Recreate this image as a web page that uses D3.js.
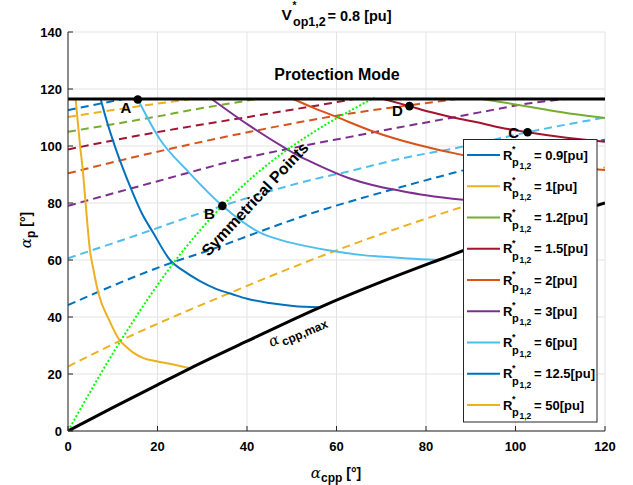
<!DOCTYPE html>
<html>
<head>
<meta charset="utf-8">
<script src="https://cdn.jsdelivr.net/npm/d3@7"></script>
<style>
  html, body { margin: 0; padding: 0; background: #fff; }
  svg text { font-family: "Liberation Sans", Arial, Helvetica, sans-serif; font-weight: bold; fill: #000; }
  .greek { font-family: "DejaVu Serif", "Liberation Serif", serif; font-style: italic; font-weight: normal; }
</style>
</head>
<body>
<svg id="chart" width="633" height="485"></svg>
<script>
// Axis ticks
const xTicks = [0, 20, 40, 60, 80, 100, 120];
const yTicks = [0, 20, 40, 60, 80, 100, 120, 140];

// Legend entries (R*_p1,2 in pu) and their colours
const rLabels = ["0.9", "1", "1.2", "1.5", "2", "3", "6", "12.5", "50"];
const rColors = ["#0072BD", "#EDB120", "#77AC30", "#A2142F", "#D95319", "#7E2F8E", "#4DBEEE", "#0072BD", "#EDB120"];

// Constant-R curves (solid), [alpha_cpp, alpha_p] in degrees
const solidR12 = [[92.5,116.5],[100,114.6],[107,112.7],[113,111.2],[120,109.8]];
const solidR15 = [[70.5,116.5],[76.3,114],[81,111.9],[85.5,110.2],[90.6,108.6],[96.5,106.5],[102.7,104.8],[111.4,102.9],[120,101.5]];
const solidR2 = [[50.3,116.5],[55,113.3],[60,110.2],[68.2,105.1],[77.9,100.5],[88.3,96.8],[100,94.2],[110,92.6],[120,91.6]];
const solidR3 = [[32.1,116.5],[40.3,107.4],[48.9,98.9],[51.8,96.3],[54.1,94.6],[63,88.6],[68,86.3],[74.2,84.3],[80,82.7],[88.3,81.1],[100,79.8],[110,79],[116,78.3]];
const solidR6 = [[15.6,116.4],[20.6,102.2],[26.5,91.6],[34.5,79],[42.9,69.6],[48,66.8],[54.1,64.6],[58.5,63.3],[65.3,61.8],[69.7,61.2],[76,60.5],[82.8,60]];
const solidR125 = [[7.3,116.5],[8.6,109.1],[10.5,99.8],[12.4,91.6],[14.2,84.6],[16.5,76.4],[19.1,69.4],[22.8,60],[26,56],[29.5,52.6],[33.2,49.8],[36.9,47.9],[40,46.4],[45,44.9],[50.3,43.9],[56.3,43.4]];
const solidR50 = [[1.7,116.5],[2.7,100],[3.3,91.6],[3.8,82.5],[4.9,63.5],[5.7,56.5],[6.8,48.3],[9.2,38.9],[11.6,31.7],[13,29.6],[14.5,27.6],[17,25.5],[19.8,24.5],[23,23.5],[27.3,22]];

// Companion curves (dashed)
const dashR09 = [[0,112.6],[6,114.5],[12.5,116.5]];
const dashR1 = [[0,110.2],[18.3,114.5],[27.5,116.5]];
const dashR12 = [[0,105],[18.3,109.9],[30,113.3],[40.7,116.1],[42.2,116.5]];
const dashR15 = [[0,98.8],[18.3,104.4],[40.7,110.3],[61.5,115.8],[64,116.5]];
const dashR2 = [[0,90.4],[18.3,97.4],[40.7,105],[63,111.4],[76.3,114.3],[87,116.5]];
const dashR3 = [[0,79],[18.3,86.9],[40.7,96.2],[51.8,99.8],[63,103.2],[74.2,106.6],[80.9,108.5],[92,111.8],[103.2,115],[111.5,116.5]];
const dashR6 = [[0,60.6],[13.1,67.5],[34.5,79],[54.1,88],[63,91.2],[74.2,95.5],[88,99.7],[103.2,105],[120,110]];
const dashR125 = [[0,44.2],[23.8,59.4],[31.7,63.5],[42.9,70],[51.8,75],[74.2,85.5],[86,90.5],[100,96],[120,102.2]];
const dashR50 = [[0,22.6],[11.6,31.6],[36.9,48.9],[58.5,62.5],[88.3,78.7],[120,92.5]];

// Maximum alpha_cpp boundary and symmetrical-point locus
const cppMax = [[0,0],[10,8.2],[20,16.2],[27.3,22],[40,31.5],[56.3,43.4],[70,52.3],[82.8,60],[100,70],[120,80]];
const symPoints = [[0,0],[11.6,31.2],[23.8,59.4],[34.5,79],[42.2,90.4],[48.9,98.6],[54,104],[60,109.7],[63,112.3],[68.5,117]];
const protectionLevel = 116.5;

// Marked operating points
const markNames = ["A", "B", "C", "D"];
const markX = [15.6, 34.5, 102.7, 76.3];
const markY = [116.3, 79, 104.8, 114];

const svg = d3.select("#chart");
const x = d3.scaleLinear().domain([0, 120]).range([68, 605]);
const y = d3.scaleLinear().domain([0, 140]).range([431, 32]);

// Grid
const grid = svg.append("g");
grid.selectAll(".gx").data(xTicks).join("line")
  .attr("x1", d => x(d)).attr("x2", d => x(d)).attr("y1", y(0)).attr("y2", y(140))
  .attr("stroke", "#e3e3e3").attr("stroke-width", 1);
grid.selectAll(".gy").data(yTicks).join("line")
  .attr("x1", x(0)).attr("x2", x(120)).attr("y1", d => y(d)).attr("y2", d => y(d))
  .attr("stroke", "#e3e3e3").attr("stroke-width", 1);

svg.append("defs").append("clipPath").attr("id", "plotClip")
  .append("rect").attr("x", x(0)).attr("y", y(140)).attr("width", x(120) - x(0)).attr("height", y(0) - y(140));

const plot = svg.append("g").attr("clip-path", "url(#plotClip)");
const line = d3.line().x(d => x(d[0])).y(d => y(d[1])).curve(d3.curveMonotoneX);

const dashed = [dashR09, dashR1, dashR12, dashR15, dashR2, dashR3, dashR6, dashR125, dashR50];
dashed.forEach((pts, i) => {
  plot.append("path").attr("d", line(pts)).attr("fill", "none")
    .attr("stroke", rColors[i]).attr("stroke-width", 2).attr("stroke-dasharray", "8,5");
});

const solids = [null, null, solidR12, solidR15, solidR2, solidR3, solidR6, solidR125, solidR50];
solids.forEach((pts, i) => {
  if (!pts) return;
  plot.append("path").attr("d", line(pts)).attr("fill", "none")
    .attr("stroke", rColors[i]).attr("stroke-width", 2);
});

plot.append("path").attr("d", line(symPoints)).attr("fill", "none")
  .attr("stroke", "#00ff00").attr("stroke-width", 2).attr("stroke-dasharray", "2,2");

plot.append("path").attr("d", line(cppMax)).attr("fill", "none")
  .attr("stroke", "#000").attr("stroke-width", 3);

plot.append("line").attr("x1", x(0)).attr("x2", x(120))
  .attr("y1", y(protectionLevel)).attr("y2", y(protectionLevel))
  .attr("stroke", "#000").attr("stroke-width", 3);

plot.selectAll(".mark").data(markNames).join("circle")
  .attr("cx", (d, i) => x(markX[i])).attr("cy", (d, i) => y(markY[i])).attr("r", 4.3).attr("fill", "#000");

// Point labels
const labelOffsets = [[-12, 8], [-13, 8], [-14, 0], [-12, 4]];
svg.selectAll(".mlab").data(markNames).join("text")
  .attr("x", (d, i) => x(markX[i]) + labelOffsets[i][0])
  .attr("y", (d, i) => y(markY[i]) + labelOffsets[i][1])
  .attr("text-anchor", "middle").attr("dominant-baseline", "central")
  .attr("font-size", 15).text(d => d);

// Annotations
svg.append("text").attr("x", 337).attr("y", 80).attr("text-anchor", "middle")
  .attr("font-size", 16).text("Protection Mode");

svg.append("text").attr("text-anchor", "middle").attr("dominant-baseline", "central")
  .attr("font-size", 16).attr("transform", "translate(255,199) rotate(-47)")
  .text("Symmetrical Points");

const cl = svg.append("text").attr("transform", "translate(271,347) rotate(-23)");
cl.append("tspan").attr("class", "greek").attr("font-size", 15).text("α");
cl.append("tspan").attr("dx", 2).attr("dy", 4).attr("font-size", 12).text("cpp,max");

// Axes
svg.append("line").attr("x1", x(0)).attr("x2", x(0)).attr("y1", y(0)).attr("y2", y(140)).attr("stroke", "#262626").attr("stroke-width", 1);
svg.append("line").attr("x1", x(0)).attr("x2", x(120)).attr("y1", y(0)).attr("y2", y(0)).attr("stroke", "#262626").attr("stroke-width", 1);

svg.selectAll(".tx").data(xTicks).join("line")
  .attr("x1", d => x(d)).attr("x2", d => x(d)).attr("y1", y(0)).attr("y2", y(0) - 5).attr("stroke", "#262626");
svg.selectAll(".ty").data(yTicks).join("line")
  .attr("x1", x(0)).attr("x2", x(0) + 5).attr("y1", d => y(d)).attr("y2", d => y(d)).attr("stroke", "#262626");

svg.selectAll(".txl").data(xTicks).join("text")
  .attr("x", d => x(d)).attr("y", 451).attr("text-anchor", "middle").attr("font-size", 13)
  .attr("fill", "#262626").text(d => d);
svg.selectAll(".tyl").data(yTicks).join("text")
  .attr("x", 62).attr("y", d => y(d) + 4.5).attr("text-anchor", "end").attr("font-size", 13)
  .attr("fill", "#262626").text(d => d);

// Axis labels
const xl = svg.append("text").attr("x", 336).attr("y", 478).attr("text-anchor", "middle");
xl.append("tspan").attr("class", "greek").attr("font-size", 15).text("α");
xl.append("tspan").attr("dy", 4).attr("font-size", 12).text("cpp");
xl.append("tspan").attr("dy", -4).attr("font-size", 14).text(" [°]");

const yl = svg.append("text").attr("text-anchor", "middle").attr("transform", "translate(31,230) rotate(-90)");
yl.append("tspan").attr("class", "greek").attr("font-size", 15).text("α");
yl.append("tspan").attr("dy", 4).attr("font-size", 12).text("p");
yl.append("tspan").attr("dy", -4).attr("font-size", 14).text(" [°]");

// Title
const title = svg.append("g");
title.append("text").attr("x", 281.5).attr("y", 20).attr("font-size", 15.5).text("V");
title.append("text").attr("x", 292.5).attr("y", 9).attr("font-size", 10).text("*");
title.append("text").attr("x", 293).attr("y", 25.5).attr("font-size", 12.5).text("op1,2");
title.append("text").attr("x", 327.5).attr("y", 20.5).attr("font-size", 14.5).text("= 0.8 [pu]");

// Legend
const lg = svg.append("g");
lg.append("rect").attr("x", 463.5).attr("y", 139.5).attr("width", 133.5).attr("height", 282.5)
  .attr("fill", "#fff").attr("stroke", "#262626").attr("stroke-width", 1);
rLabels.forEach((lab, i) => {
  const y0 = 155 + i * 31.25;
  lg.append("line").attr("x1", 467).attr("x2", 500).attr("y1", y0).attr("y2", y0)
    .attr("stroke", rColors[i]).attr("stroke-width", 2);
  lg.append("text").attr("x", 503).attr("y", y0 + 4.5).attr("font-size", 13).text("R");
  lg.append("text").attr("x", 512).attr("y", y0 - 3).attr("font-size", 9).text("*");
  lg.append("text").attr("x", 512).attr("y", y0 + 11).attr("font-size", 11).text("p");
  lg.append("text").attr("x", 519.5).attr("y", y0 + 14).attr("font-size", 8.5).text("1,2");
  lg.append("text").attr("x", 534).attr("y", y0 + 4.5).attr("font-size", 13).text("= " + lab + "[pu]");
});
</script>
</body>
</html>
